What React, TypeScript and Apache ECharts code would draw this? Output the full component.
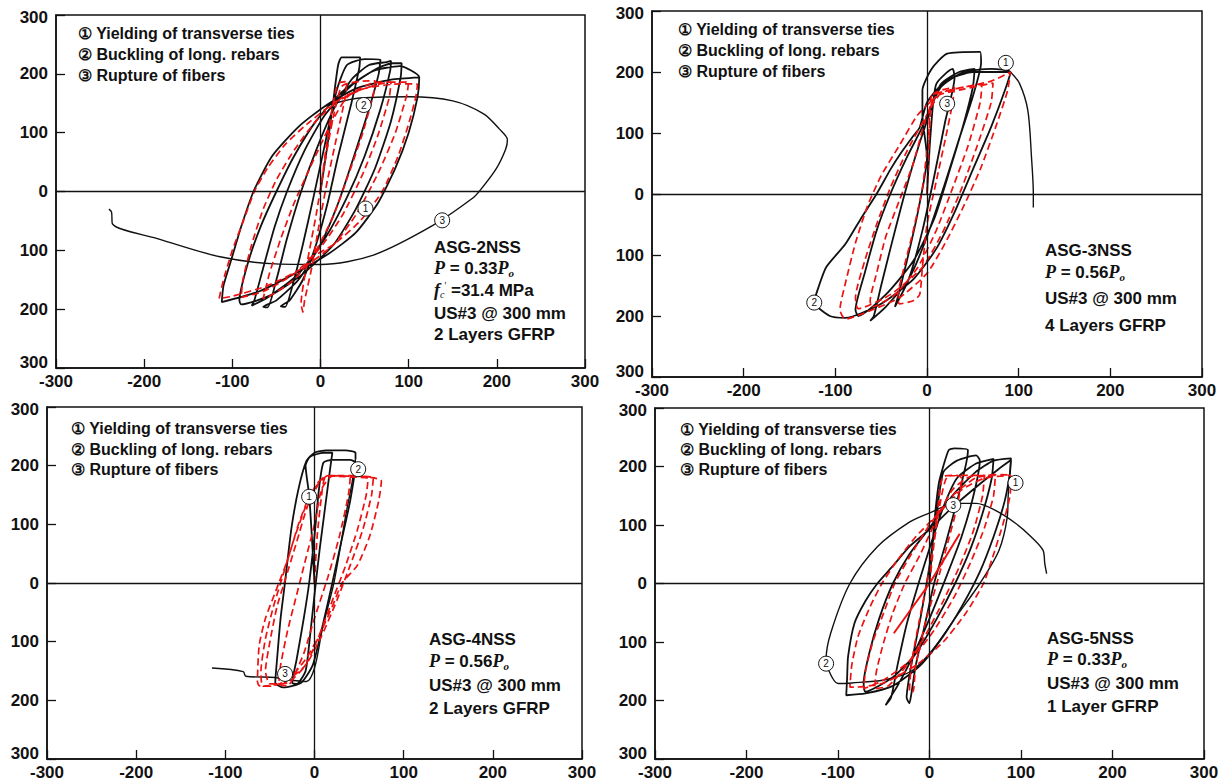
import React, { useEffect, useRef } from "react";
import * as echarts from "echarts";

const FONT = '"Liberation Sans", Arial, Helvetica, sans-serif';
const SERIF = '"Liberation Serif", "Times New Roman", serif';

const axisMin = -300;
const axisMax = 300;
const axisStep = 100;

const legendLines = [
  "\u2460 Yielding of transverse ties",
  "\u2461 Buckling of long. rebars",
  "\u2462 Rupture of fibers",
];

// ---------- Panel 1 : ASG-2NSS ----------
const p1Exp = [
  [0, 0], [8, 80], [15, 160], [20, 215], [24, 228], [45, 228], [44, 210], [35, 150], [20, 60], [8, -20], [-5, -90], [-20, -150], [-35, -185], [-45, -195], [-40, -196], [-30, -150], [-20, -90], [-8, -10], [5, 80], [18, 170], [30, 215], [50, 225],
  [68, 224], [66, 200], [55, 140], [38, 60], [20, -20], [0, -90], [-25, -150], [-50, -185], [-65, -196], [-60, -197], [-50, -150], [-38, -80], [-22, 0], [-5, 70], [15, 140], [35, 190], [55, 215], [75, 220],
  [80, 222], [79, 205], [68, 140], [50, 60], [30, -10], [5, -80], [-25, -140], [-60, -180], [-78, -194], [-75, -185], [-65, -130], [-52, -60], [-38, 0], [-18, 70], [5, 130], [35, 180], [65, 210], [82, 218],
  [92, 218], [91, 195], [80, 120], [62, 40], [40, -30], [15, -90], [-20, -140], [-55, -175], [-90, -192], [-92, -185], [-82, -120], [-68, -60], [-50, 0], [-30, 60], [-5, 120], [25, 170], [60, 205], [90, 213],
  [112, 194], [110, 160], [100, 100], [85, 40], [65, -20], [40, -70], [10, -105], [-30, -140], [-70, -170], [-112, -188], [-110, -160], [-100, -110], [-90, -60], [-76, 0], [-55, 60], [-25, 110], [5, 145], [40, 175], [80, 190], [112, 194],
];
const p1ExpFinal = [
  [5, 145], [40, 158], [100, 161], [150, 154], [185, 132], [203, 106], [212, 88], [210, 72], [199, 38], [181, 2], [172, -12], [127, -58], [60, -108], [0, -124], [-51, -123], [-114, -111], [-185, -80], [-236, -55], [-237, -35], [-240, -30],
];
const p1Ana = [
  [0, 0], [5, 60], [12, 130], [18, 175], [22, 185], [30, 187], [28, 160], [18, 90], [8, 20], [-2, -60], [-10, -130], [-18, -185], [-20, -205], [-22, -190], [-15, -120], [-5, -40], [5, 50], [15, 130], [25, 180],
  [55, 188], [62, 188], [60, 165], [48, 100], [32, 30], [15, -40], [-5, -100], [-30, -150], [-60, -180], [-65, -182], [-58, -140], [-45, -80], [-30, -20], [-12, 40], [10, 110], [30, 160], [60, 185],
  [80, 186], [78, 160], [65, 95], [48, 30], [25, -40], [0, -95], [-30, -140], [-65, -170], [-90, -180], [-88, -150], [-78, -90], [-65, -30], [-50, 20], [-30, 70], [-5, 120], [25, 160], [60, 180], [80, 186],
  [95, 186], [100, 187], [98, 165], [85, 100], [65, 30], [40, -40], [15, -90], [-20, -130], [-60, -160], [-100, -178], [-115, -182], [-110, -150], [-100, -100], [-85, -40], [-75, 0], [-60, 40], [-40, 80], [-15, 115], [15, 150], [50, 175], [90, 183], [110, 182],
  [108, 160], [100, 115], [88, 60], [70, 0], [45, -50], [15, -90], [-15, -115],
];
const p1Marks = [[51, -29, "1"], [49, 147, "2"], [138, -49, "3"]];

// ---------- Panel 2 : ASG-3NSS ----------
const p2Exp = [
  [0, 0], [4, 100], [10, 180], [28, 205], [30, 190], [20, 120], [8, 30], [-5, -60], [-20, -140], [-35, -185], [-32, -170], [-22, -110], [-10, -30], [0, 60],
  [-5, 130], [-5, 170], [5, 205], [22, 230], [58, 233], [59, 215], [50, 160], [35, 90], [18, 10], [0, -70], [-20, -140], [-45, -185], [-62, -208], [-58, -200], [-50, -150], [-40, -90], [-28, -20], [-15, 50], [0, 120],
  [15, 180], [35, 200], [52, 205], [50, 175], [40, 115], [25, 40], [8, -40], [-15, -110], [-45, -165], [-75, -200], [-78, -190], [-68, -130], [-55, -60], [-40, 0], [-22, 60], [-5, 110], [15, 175],
  [40, 200], [70, 205], [91, 200], [85, 170], [70, 110], [50, 40], [30, -30], [10, -90], [-15, -140], [-50, -180], [-89, -203], [-106, -200], [-123, -178], [-120, -160], [-110, -120], [-89, -82], [-72, -40], [-55, 0], [-40, 40], [-29, 66], [-15, 95], [-8, 109], [0, 150], [20, 185], [50, 200], [91, 200],
];
const p2ExpFinal = [[91, 200], [101, 181], [110, 137], [114, 60], [116, 0], [116, -22]];
const p2Ana = [
  [0, 0], [2, 80], [4, 140], [8, 165], [20, 172], [30, 175], [28, 150], [20, 90], [10, 20], [0, -50], [-5, -120], [-8, -165], [-15, -175], [-30, -180], [-32, -170], [-25, -120], [-15, -60], [-5, 10], [2, 100], [5, 160],
  [30, 172], [50, 178], [60, 180], [58, 150], [45, 80], [28, 10], [10, -60], [-10, -120], [-35, -165], [-60, -185], [-62, -175], [-55, -130], [-45, -70], [-30, -10], [-15, 50], [-2, 120], [10, 160],
  [40, 172], [72, 182], [70, 150], [55, 80], [38, 10], [18, -60], [-5, -120], [-40, -165], [-75, -188], [-78, -170], [-68, -110], [-55, -50], [-40, 10], [-22, 70], [0, 130], [15, 165],
  [40, 175], [70, 185], [91, 200], [88, 170], [75, 110], [58, 40], [40, -20], [20, -80], [0, -130], [-30, -170], [-60, -190], [-89, -205], [-95, -190], [-88, -140], [-78, -80], [-65, -20], [-50, 30], [-30, 80], [-10, 130], [10, 160],
];
const p2Marks = [[86, 215, "1"], [-123, -178, "2"], [22, 148, "3"]];

// ---------- Panel 3 : ASG-4NSS ----------
const p3Exp = [
  [0, 0], [-3, 80], [-6, 150], [-10, 200], [-5, 215], [10, 222], [20, 222], [18, 200], [12, 130], [6, 60], [0, -20], [-5, -90], [-10, -150], [-20, -172], [-25, -170], [-20, -130], [-12, -60], [-6, 0], [0, 80], [5, 160], [10, 205],
  [20, 210], [40, 210], [46, 205], [40, 140], [30, 70], [20, 0], [8, -80], [-2, -140], [-15, -170], [-35, -178], [-44, -170], [-42, -130], [-38, -60], [-33, 2], [-26, 92], [-18, 160], [-9, 208], [0, 222], [13, 226], [35, 226], [46, 222], [46, 211],
];
const p3ExpFinal = [[46, 211], [42, 170], [35, 115], [22, 2], [9, -77], [0, -145], [-9, -168], [-30, -165], [-44, -161], [-77, -159], [-80, -151], [-115, -145]];
const p3Ana = [
  [0, 0], [3, 80], [8, 150], [12, 180], [30, 183], [40, 180], [38, 150], [28, 80], [15, 10], [0, -60], [-12, -120], [-25, -165], [-30, -175], [-40, -172], [-38, -140], [-30, -80], [-20, -20], [-10, 40], [0, 100], [8, 160],
  [20, 182], [50, 180], [60, 178], [58, 150], [48, 90], [35, 30], [20, -30], [5, -90], [-10, -140], [-30, -170], [-50, -172], [-55, -150], [-50, -100], [-42, -40], [-32, 10], [-20, 70], [-8, 130], [5, 170], [15, 183],
  [40, 182], [66, 180], [64, 150], [54, 90], [40, 30], [25, -30], [8, -90], [-10, -140], [-35, -170], [-58, -176], [-60, -150], [-55, -95], [-46, -40], [-36, 10], [-24, 70], [-10, 130], [3, 170], [15, 183],
  [45, 183], [70, 178], [75, 174], [72, 140], [62, 80], [48, 30], [31, 0], [20, -40], [5, -90], [-10, -130], [-30, -165], [-50, -176], [-62, -175], [-64, -168], [-62, -106], [-55, -60], [-45, -20], [-40, 0], [-30, 40], [-18, 100], [-5, 150], [10, 180],
];
const p3Marks = [[-6, 147, "1"], [49, 194, "2"], [-33, -155, "3"]];

// ---------- Panel 4 : ASG-5NSS ----------
const p4Exp = [
  [0, 0], [5, 100], [10, 170], [15, 200], [21, 228], [27, 231], [42, 228], [40, 205], [30, 140], [18, 70], [5, 0], [-5, -70], [-15, -140], [-20, -190], [-22, -205], [-25, -195], [-20, -140], [-10, -60], [0, 30], [8, 120], [15, 190],
  [30, 210], [51, 219], [55, 210], [48, 150], [35, 80], [18, 10], [0, -60], [-20, -130], [-35, -175], [-45, -200], [-48, -208], [-42, -195], [-35, -140], [-25, -70], [-12, 0], [0, 60], [15, 130], [30, 180], [51, 205],
  [70, 213], [68, 180], [58, 120], [45, 60], [28, 0], [8, -60], [-15, -120], [-40, -160], [-70, -185], [-72, -170], [-66, -120], [-55, -60], [-40, 0], [-22, 50], [0, 95], [25, 150], [50, 190], [70, 210],
  [89, 214], [88, 190], [82, 140], [70, 80], [55, 20], [35, -40], [15, -90], [-10, -140], [-40, -175], [-70, -188], [-91, -191], [-90, -160], [-89, -125], [-82, -68], [-70, -30], [-57, 0], [-40, 30], [-22, 63], [-1, 91], [25, 130], [55, 170], [75, 195], [89, 211],
];
const p4ExpFinal = [
  [89, 211], [86, 150], [85, 114], [76, 57], [55, 0], [29, -57], [3, -114], [-20, -150], [-50, -165], [-85, -170], [-100, -171], [-112, -142], [-113, -130], [-108, -85], [-87, 0], [-57, 63], [-22, 105], [-1, 120], [29, 137], [51, 137], [72, 125], [94, 103], [111, 80], [124, 57], [126, 34], [128, 17],
];
const p4Ana = [
  [0, 0], [5, 70], [10, 140], [15, 183], [30, 185], [35, 180], [30, 130], [20, 70], [8, 0], [-5, -70], [-15, -140], [-18, -185], [-22, -185], [-20, -140], [-12, -70], [-3, 0], [5, 70], [12, 140], [20, 183],
  [45, 185], [60, 185], [58, 150], [48, 90], [33, 30], [15, -30], [-5, -90], [-25, -140], [-45, -175], [-60, -180], [-58, -150], [-50, -100], [-40, -50], [-27, 0], [-10, 50], [8, 110], [25, 160], [45, 183],
  [72, 185], [70, 150], [60, 95], [46, 40], [28, -20], [5, -80], [-20, -130], [-50, -165], [-72, -180], [-70, -150], [-62, -100], [-50, -50], [-38, 0], [-20, 50], [0, 100], [25, 150], [50, 180],
  [70, 186], [89, 185], [88, 150], [80, 100], [68, 40], [59, 0], [40, -50], [15, -100], [-15, -140], [-50, -170], [-80, -177], [-87, -177], [-85, -140], [-78, -90], [-65, -40], [-52, 0], [-35, 40], [-15, 80], [10, 120], [35, 160], [60, 180], [89, 185],
];
const p4Diagonal = [[-39, -85], [0, 0], [33, 85]];
const p4Marks = [[94, 172, "1"], [-113, -137, "2"], [26, 134, "3"]];

const specimenNames = ["ASG-2NSS", "ASG-3NSS", "ASG-4NSS", "ASG-5NSS"];
const axialRatios = ["0.33", "0.56", "0.56", "0.33"];
const gfrpLayers = ["2 Layers GFRP", "4 Layers GFRP", "2 Layers GFRP", "1 Layer GFRP"];
const concreteStrength = ["31.4 MPa", "", "", ""];

const panels = [
  { exp: p1Exp, fin: p1ExpFinal, ana: p1Ana, extra: null as any, marks: p1Marks },
  { exp: p2Exp, fin: p2ExpFinal, ana: p2Ana, extra: null as any, marks: p2Marks },
  { exp: p3Exp, fin: p3ExpFinal, ana: p3Ana, extra: null as any, marks: p3Marks },
  { exp: p4Exp, fin: p4ExpFinal, ana: p4Ana, extra: p4Diagonal, marks: p4Marks },
];

const layout = [
  { grid: { left: 56, top: 15, width: 529, height: 353 }, leg: { x: 78, y: [33, 54, 75] }, info: { x: 434, y: [247, 268, 290, 313, 334] } },
  { grid: { left: 652, top: 11, width: 550, height: 366 }, leg: { x: 678, y: [29, 50, 71] }, info: { x: 1045, y: [250, 272, 298, 325] } },
  { grid: { left: 47, top: 407, width: 535, height: 355 }, leg: { x: 71, y: [428, 449, 469] }, info: { x: 429, y: [639, 661, 685, 708] } },
  { grid: { left: 655, top: 408, width: 549, height: 352 }, leg: { x: 680, y: [429, 449, 469] }, info: { x: 1047, y: [638, 659, 683, 706] } },
];

function buildOption() {
  const grid: any[] = [];
  const xAxis: any[] = [];
  const yAxis: any[] = [];
  const series: any[] = [];
  const graphic: any[] = [];
  const labelStyle = { color: "#111", fontFamily: FONT, fontWeight: "bold", fontSize: 17 };
  const redLine = { color: "#ee1111", width: 1.7, type: [7, 4] };

  panels.forEach((p, i) => {
    const L = layout[i];
    grid.push({ ...L.grid, show: true, borderColor: "#111", borderWidth: 1.5, backgroundColor: "#fff" });
    xAxis.push({
      type: "value", gridIndex: i, min: axisMin, max: axisMax, interval: axisStep,
      axisLine: { show: true, onZero: false, lineStyle: { color: "#111", width: 1.5 } },
      axisTick: { show: true, inside: true, length: 9, lineStyle: { color: "#111", width: 1.3 } },
      splitLine: { show: false },
      axisLabel: { ...labelStyle, margin: 5 },
    });
    yAxis.push({
      type: "value", gridIndex: i, min: axisMin, max: axisMax, interval: axisStep,
      axisLine: { show: true, onZero: false, lineStyle: { color: "#111", width: 1.5 } },
      axisTick: { show: true, inside: true, length: 9, lineStyle: { color: "#111", width: 1.3 } },
      splitLine: { show: false },
      axisLabel: {
        ...labelStyle, margin: 8,
        formatter: (v: number) => (v === axisMin ? "{lo|" + Math.abs(v) + "}" : v === axisMax ? "{hi|" + Math.abs(v) + "}" : String(Math.abs(v))),
        rich: {
          lo: { ...labelStyle, padding: [0, 0, 12, 0] },
          hi: { ...labelStyle, padding: [5, 0, 0, 0] },
        },
      },
    });
    series.push({
      type: "line", xAxisIndex: i, yAxisIndex: i, data: p.exp, showSymbol: false, smooth: 0.2,
      lineStyle: { color: "#111", width: 1.8 }, itemStyle: { color: "#111" }, z: 2,
      markLine: {
        silent: true, symbol: "none", label: { show: false }, animation: false,
        lineStyle: { color: "#111", width: 1.3, type: "solid" },
        data: [{ xAxis: 0 }, { yAxis: 0 }],
      },
    });
    series.push({
      type: "line", xAxisIndex: i, yAxisIndex: i, data: p.fin, showSymbol: false, smooth: 0.3,
      lineStyle: { color: "#111", width: 1.4 }, itemStyle: { color: "#111" }, z: 2,
    });
    series.push({
      type: "line", xAxisIndex: i, yAxisIndex: i, data: p.ana, showSymbol: false, smooth: 0.2,
      lineStyle: redLine, itemStyle: { color: "#ee1111" }, z: 3,
    });
    if (p.extra) {
      series.push({
        type: "line", xAxisIndex: i, yAxisIndex: i, data: p.extra, showSymbol: false,
        lineStyle: { color: "#ee1111", width: 2 }, itemStyle: { color: "#ee1111" }, z: 3,
      });
    }
    series.push({
      type: "scatter", xAxisIndex: i, yAxisIndex: i, data: p.marks, symbol: "circle", symbolSize: 15, z: 5,
      itemStyle: { color: "#fff", borderColor: "#111", borderWidth: 1, opacity: 1 },
      label: { show: true, position: "inside", formatter: (q: any) => q.value[2], fontSize: 10, color: "#111", fontFamily: FONT },
    });

    legendLines.forEach((t, k) => {
      graphic.push({
        type: "text", x: L.leg.x, y: L.leg.y[k], z: 10,
        style: { text: t, fontSize: 16, fontWeight: "bold", fontFamily: FONT, fill: "#111", verticalAlign: "middle", align: "left" },
      });
    });

    const infoLines: any[] = [
      { text: specimenNames[i] },
      {
        text: "{i|P} = " + axialRatios[i] + "{i|P}{o|o}",
        rich: {
          i: { fontFamily: SERIF, fontStyle: "italic", fontWeight: "bold", fontSize: 18, fill: "#111" },
          o: { fontFamily: SERIF, fontStyle: "italic", fontWeight: "bold", fontSize: 11, padding: [9, 0, 0, 0], fill: "#111" },
        },
      },
    ];
    if (concreteStrength[i]) {
      infoLines.push({
        text: "{i|f}{c|c}{q|'} =" + concreteStrength[i],
        rich: {
          i: { fontFamily: SERIF, fontStyle: "italic", fontWeight: "bold", fontSize: 18, fill: "#111" },
          c: { fontFamily: SERIF, fontStyle: "italic", fontSize: 10, padding: [9, 0, 0, 0], fill: "#111" },
          q: { fontFamily: SERIF, fontSize: 10, padding: [0, 0, 9, 0], fill: "#111" },
        },
      });
    }
    infoLines.push({ text: "US#3 @ 300 mm" });
    infoLines.push({ text: gfrpLayers[i] });
    infoLines.forEach((ln, k) => {
      graphic.push({
        type: "text", x: L.info.x, y: L.info.y[k], z: 10,
        style: {
          text: ln.text, rich: ln.rich, fontSize: 17, fontWeight: "bold", fontFamily: FONT, fill: "#111",
          verticalAlign: "middle", align: "left",
        },
      });
    });
  });

  return { animation: false, backgroundColor: "#fff", grid, xAxis, yAxis, series, graphic };
}

export default function App() {
  const ref = useRef<HTMLDivElement>(null);
  useEffect(() => {
    const chart = echarts.init(ref.current!, null, { renderer: "svg" });
    chart.setOption(buildOption());
    return () => chart.dispose();
  }, []);
  return (
    <div
      ref={ref}
      style={{ position: "absolute", left: 0, top: 0, width: 1222, height: 781, background: "#fff" }}
    />
  );
}
